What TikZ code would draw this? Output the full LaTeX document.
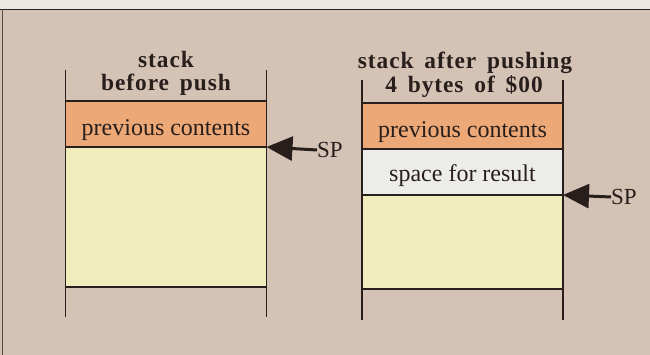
\documentclass[tikz,border=0pt]{standalone}
\usepackage{fontspec}
\setmainfont{Liberation Serif}
\newfontfamily\headfont[LetterSpace=4,WordSpace=1.6]{Liberation Serif}
\usetikzlibrary{arrows.meta}
\definecolor{bgtan}{RGB}{212,194,181}
\definecolor{topstrip}{RGB}{236,233,229}
\definecolor{prevorange}{RGB}{236,168,118}
\definecolor{freeyellow}{RGB}{240,236,188}
\definecolor{resultgray}{RGB}{236,236,232}
\definecolor{inkdark}{RGB}{40,30,28}
\tikzset{
  cell/.style={draw=inkdark, line width=1.3pt, inner sep=0pt, outer sep=0pt,
    minimum width=201pt, font=\fontsize{24}{26}\selectfont, text=inkdark,
    text height=24pt, text depth=0pt},
  stackline/.style={draw=inkdark, line width=1.3pt},
  heading/.style={font=\headfont\fontsize{23.4}{26}\bfseries\selectfont,
    text=inkdark, inner sep=0pt, align=center},
  splabel/.style={font=\fontsize{23}{24}\selectfont, text=inkdark, inner sep=0pt, anchor=west},
  sparrow/.style={draw=inkdark, line width=3pt,
    -{Triangle[length=26pt,width=24pt,fill=inkdark]}}
}
\begin{document}
\begin{tikzpicture}[x=1pt,y=-1pt]
\useasboundingbox (0,0) rectangle (650,355);
\fill[bgtan] (0,0) rectangle (650,355);
\fill[topstrip] (0,0) rectangle (650,9);
\draw[inkdark, line width=1.2pt] (0,9.5) -- (650,9.5);
\draw[inkdark!80, line width=1pt] (2,9.5) -- (2,355);

% left stack
\coordinate (lvt1) at (65.5,70);
\coordinate (lvb1) at (65.5,317);
\coordinate (lvt2) at (266.5,70);
\coordinate (lvb2) at (266.5,317);
\node[cell, fill=freeyellow, minimum height=140pt, anchor=north west] (lfree) at (65.5,147) {};
\node[cell, fill=prevorange, minimum height=46pt, anchor=north west] (lprev) at (65.5,101) {previous contents};
\draw[stackline] (lvt1) -- (lvb1);
\draw[stackline] (lvt2) -- (lvb2);
\node[heading] (lhead1) at (166,59.5) {stack};
\node[heading] (lhead2) at (166,85) {before push};
\node[splabel] (lsp) at (317,150) {SP};
\draw[sparrow] (lsp.west) -- (lprev.south east);

% right stack
\coordinate (rvt1) at (362,80);
\coordinate (rvb1) at (362,320);
\coordinate (rvt2) at (563,80);
\coordinate (rvb2) at (563,320);
\node[cell, fill=freeyellow, minimum height=94pt, anchor=north west] (rfree) at (362,195) {};
\node[cell, fill=resultgray, minimum height=46pt, anchor=north west, text height=19pt] (rres) at (362,149) {space for result};
\node[cell, fill=prevorange, minimum height=46pt, anchor=north west] (rprev) at (362,103) {previous contents};
\draw[stackline] (rvt1) -- (rvb1);
\draw[stackline] (rvt2) -- (rvb2);
\node[heading] (rhead1) at (465,62.5) {stack after pushing};
\node[heading] (rhead2) at (464,87) {4 bytes of \$00};
\node[splabel] (rsp) at (611,197) {SP};
\draw[sparrow] (rsp.west) -- (rres.south east);
\end{tikzpicture}
\end{document}
